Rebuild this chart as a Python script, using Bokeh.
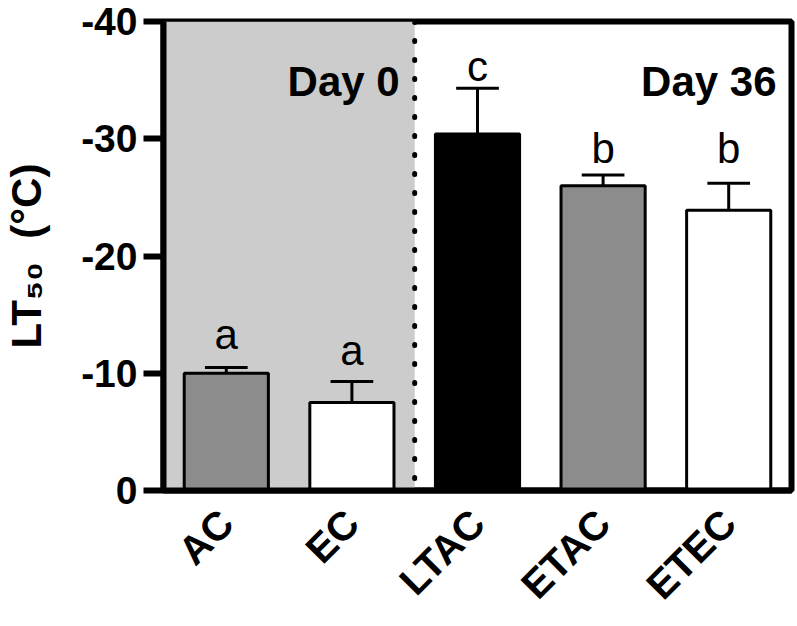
from math import pi

from bokeh.plotting import figure
from bokeh.models import (ColumnDataSource, FactorRange, Range1d, BoxAnnotation,
                          Span, Label, FixedTicker)
from bokeh.transform import dodge
from bokeh.core.properties import value
from bokeh.embed import file_html
from bokeh.resources import INLINE

# data (LT50 in degC, SE shown one-sided)
groups = ["AC", "EC", "LTAC", "ETAC", "ETEC"]
lt50 = [-10.0, -7.5, -30.4, -26.0, -23.9]
se = [0.5, 1.8, 3.9, 0.9, 2.3]
letters = ["a", "a", "c", "b", "b"]
letter_y = [-13.3, -11.9, -36.2, -29.2, -29.2]
colors = ["#8c8c8c", "#ffffff", "#000000", "#8c8c8c", "#ffffff"]
y_ticks = [0, -10, -20, -30, -40]

FONT = "Liberation Sans"

src = ColumnDataSource(data=dict(
    g=groups,
    v=lt50,
    cap=[v - e for v, e in zip(lt50, se)],
    col=colors,
    let=letters,
    ly=letter_y,
))

p = figure(x_range=FactorRange(factors=groups, range_padding=0),
           y_range=Range1d(0, -40),
           width=797, height=626,
           output_backend="svg", toolbar_location=None,
           min_border_left=163, min_border_right=6,
           min_border_top=21, min_border_bottom=134)

p.background_fill_color = "white"
p.border_fill_color = "white"
p.grid.visible = False
p.outline_line_color = "black"
p.outline_line_width = 6

# Day 0 shading and separator
p.add_layout(BoxAnnotation(left=0, right=2, fill_color="#cccccc",
                           fill_alpha=1.0, line_color=None, level="underlay"))
p.add_layout(Span(location=2, dimension="height", line_color="black",
                  line_width=5, line_dash="1 18", line_cap="round"))

p.vbar(x="g", top="v", bottom=0, width=0.67, source=src,
       fill_color="col", line_color="black", line_width=3)

# error bars (upper only)
p.segment(x0="g", y0="v", x1="g", y1="cap", source=src,
          line_color="black", line_width=3)
p.segment(x0=dodge("g", -0.17, range=p.x_range), y0="cap",
          x1=dodge("g", 0.17, range=p.x_range), y1="cap", source=src,
          line_color="black", line_width=3)

p.text(x="g", y="ly", text="let", source=src, text_align="center",
       text_baseline="alphabetic", text_font=value(FONT),
       text_font_size="42px", text_color="black")

for xx, txt in [(2, "Day 0"), (5, "Day 36")]:
    p.add_layout(Label(x=xx, y=-34.9, x_offset=-15, text=txt,
                       text_align="right", text_baseline="alphabetic",
                       text_font=FONT, text_font_size="42px",
                       text_font_style="bold", text_color="black"))

# axes
ya = p.yaxis[0]
ya.ticker = FixedTicker(ticks=y_ticks)
ya.major_label_overrides = {t: str(t) for t in y_ticks}
ya.minor_tick_line_color = None
ya.major_tick_in = 0
ya.major_tick_out = 20
ya.major_tick_line_width = 6
ya.axis_line_width = 6
ya.major_label_standoff = 6
ya.major_label_text_font = FONT
ya.major_label_text_font_size = "39px"
ya.major_label_text_font_style = "bold"
ya.major_label_text_color = "black"
ya.axis_label = "LT\u2085\u2080\u00a0\u00a0(\u00b0C)"
ya.axis_label_text_font = FONT
ya.axis_label_text_font_size = "42px"
ya.axis_label_text_font_style = "bold"
ya.axis_label_text_color = "black"
ya.axis_label_standoff = 28

xa = p.xaxis[0]
xa.axis_line_width = 6
xa.major_tick_line_color = None
xa.minor_tick_line_color = None
xa.major_label_orientation = pi / 4
xa.major_label_standoff = 20
xa.major_label_text_font = FONT
xa.major_label_text_font_size = "40px"
xa.major_label_text_font_style = "bold"
xa.major_label_text_color = "black"

open("out.html", "w").write(file_html(p, INLINE))
